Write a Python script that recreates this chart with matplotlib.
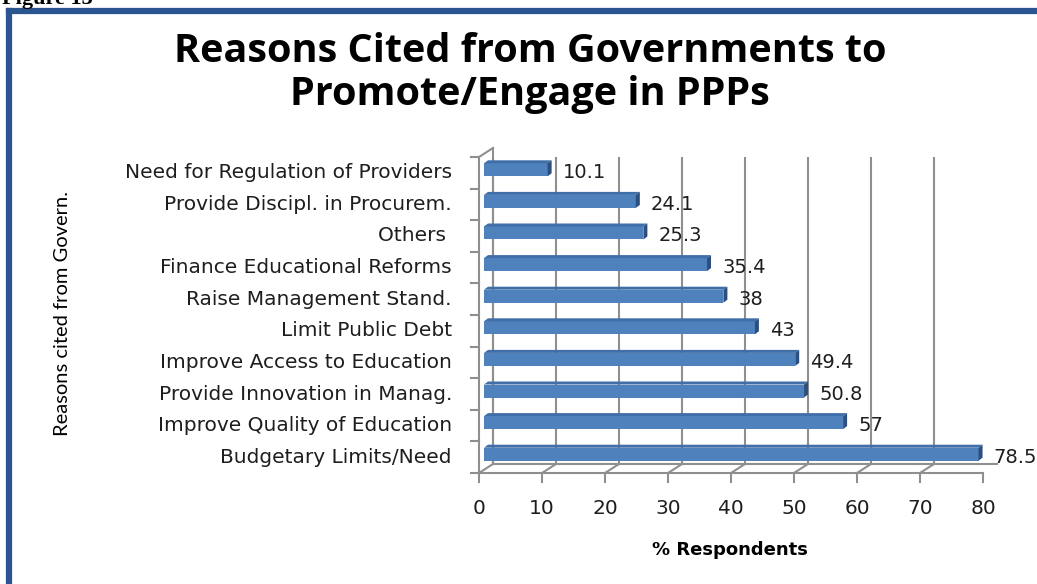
import matplotlib
matplotlib.use("Agg")
import matplotlib.pyplot as plt
from matplotlib.patches import Polygon
from matplotlib.lines import Line2D

# ---- data ----
categories = [
    "Budgetary Limits/Need",
    "Improve Quality of Education",
    "Provide Innovation in Manag.",
    "Improve Access to Education",
    "Limit Public Debt",
    "Raise Management Stand.",
    "Finance Educational Reforms",
    "Others ",
    "Provide Discipl. in Procurem.",
    "Need for Regulation of Providers",
]
values = [78.5, 57, 50.8, 49.4, 43, 38, 35.4, 25.3, 24.1, 10.1]
value_labels = ["78.5", "57", "50.8", "49.4", "43", "38", "35.4", "25.3", "24.1", "10.1"]
xticks = [0, 10, 20, 30, 40, 50, 60, 70, 80]
title = "Reasons Cited from Governments to\nPromote/Engage in PPPs"
xlabel = "% Respondents"
ylabel = "Reasons cited from Govern."

W, H = 1037, 584
fig = plt.figure(figsize=(W / 100, H / 100), dpi=100)
fig.patch.set_facecolor("white")

# front plane of the plot (pixels)
L, R, B, T = 479, 983, 473, 157
ax = fig.add_axes([L / W, (H - B) / H, (R - L) / W, (B - T) / H])
ax.set_xlim(0, 80)
ax.set_ylim(0, len(categories))
ax.axis("off")

sx = (R - L) / 80.0
sy = (B - T) / len(categories)
def px(p):
    return p / sx
def py(p):
    return p / sy

DX, DY = 14, 9          # wall depth in pixels
gcol = "#8f8f8f"
glw = 1.5
ymax = len(categories)
lab_font = "DejaVu Sans"
lab_size = 14.5
val_size = 14
tcol = "#1e1e1e"

# back wall vertical gridlines + floor diagonals + front ticks
for t in xticks:
    ax.add_line(Line2D([t + px(DX)] * 2, [py(DY), ymax + py(DY)], color=gcol, lw=glw, zorder=1))
    ax.add_line(Line2D([t, t + px(DX)], [0, py(DY)], color=gcol, lw=glw, zorder=1))
    ax.add_line(Line2D([t, t], [0, -py(9)], color=gcol, lw=glw, zorder=1, clip_on=False))
    ax.text(t, -py(35), str(t), ha="center", va="center", fontsize=lab_size,
            family=lab_font, color=tcol, clip_on=False)

# floor lines
ax.add_line(Line2D([0, 80], [0, 0], color=gcol, lw=glw, zorder=1, clip_on=False))
ax.add_line(Line2D([px(DX), 80 + px(DX)], [py(DY), py(DY)], color=gcol, lw=glw, zorder=1, clip_on=False))
# left wall
ax.add_line(Line2D([0, 0], [0, ymax], color=gcol, lw=glw, zorder=1, clip_on=False))
ax.add_line(Line2D([px(DX)] * 2, [py(DY), ymax + py(DY)], color=gcol, lw=glw, zorder=1, clip_on=False))
ax.add_line(Line2D([0, px(DX)], [ymax, ymax + py(DY)], color=gcol, lw=glw, zorder=1, clip_on=False))
for k in range(len(categories) + 1):
    ax.add_line(Line2D([-px(8), 0], [k, k], color=gcol, lw=glw, zorder=1, clip_on=False))

# bars with pseudo 3D faces
OX, OY = 5, 3
BH = 13
BDX, BDY = 4, 3
front = "#4f81bd"
topc = "#3f6ea8"
endc = "#2c4f80"
ys = [i + 0.5 + py(OY) for i in range(len(categories))]
ax.barh(ys, values, height=py(BH), left=px(OX), color=front, edgecolor="none", zorder=3)
for yc, v in zip(ys, values):
    x0, x1 = px(OX), v + px(OX)
    yt, yb = yc + py(BH) / 2, yc - py(BH) / 2
    ax.add_patch(Polygon([(x0, yt), (x1, yt), (x1 + px(BDX), yt + py(BDY)), (x0 + px(BDX), yt + py(BDY))],
                         closed=True, facecolor=topc, edgecolor="none", zorder=3, clip_on=False))
    ax.add_patch(Polygon([(x1, yb), (x1 + px(BDX), yb + py(BDY)), (x1 + px(BDX), yt + py(BDY)), (x1, yt)],
                         closed=True, facecolor=endc, edgecolor="none", zorder=3, clip_on=False))

# value labels
for i, (v, s) in enumerate(zip(values, value_labels)):
    ax.text(v + px(OX + BDX + 11), i + 0.5, s, ha="left", va="center", fontsize=val_size,
            family=lab_font, color=tcol, clip_on=False, zorder=5)

# category labels
for i, c in enumerate(categories):
    ax.text(-px(27), i + 0.5, c, ha="right", va="center", fontsize=lab_size,
            family=lab_font, color=tcol, clip_on=False)

# titles
fig.text(530 / W, 1 - 73 / H, title, ha="center", va="center", fontsize=28.5,
         family="Open Sans", weight="bold", color="black", linespacing=1.12)
fig.text(730 / W, 1 - 550 / H, xlabel, ha="center", va="center", fontsize=13,
         family="DejaVu Sans", weight="bold", color="black")
fig.text(62 / W, 1 - 313 / H, ylabel, ha="center", va="center", rotation=90,
         fontsize=14.5, family=["Liberation Sans Narrow", "Lato"], color="black")

# partial "Figure 13" caption at top edge
fig.text(2 / W, 1 - 4 / H, "Figure 13", ha="left", va="baseline", fontsize=16,
         family="Liberation Serif", weight="bold", color="black")

# blue frame
bcol = "#2a5590"
fig.add_artist(Line2D([8.5 / W, 8.5 / W], [1 - 10.5 / H, -0.05], color=bcol, lw=4.5,
                      transform=fig.transFigure, solid_capstyle="projecting"))
fig.add_artist(Line2D([8.5 / W, 1.05], [1 - 10.5 / H, 1 - 10.5 / H], color=bcol, lw=4.5,
                      transform=fig.transFigure, solid_capstyle="projecting"))

fig.savefig("out.png", dpi=100)
